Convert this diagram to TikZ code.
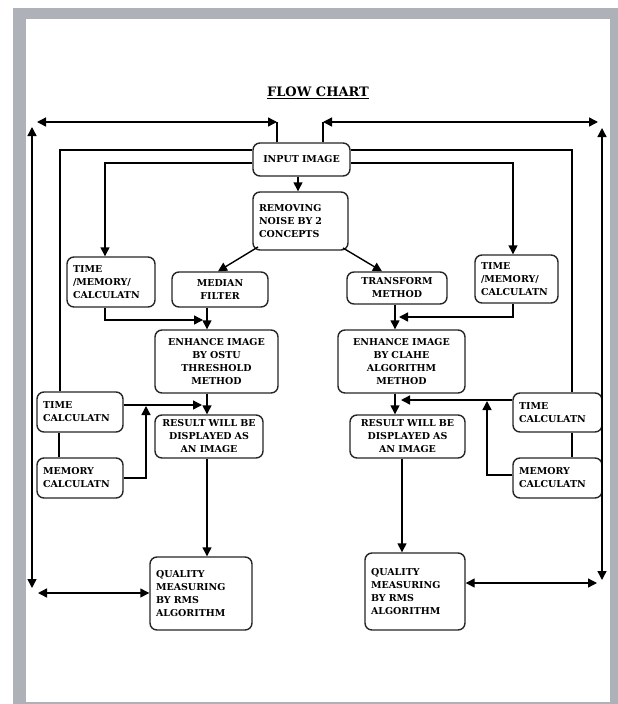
\documentclass[tikz,border=0pt]{standalone}
\usepackage{fontspec}
\setmainfont{DejaVu Serif}
\usetikzlibrary{arrows.meta}
\definecolor{framegray}{HTML}{AEB2B8}
\begin{document}
\begin{tikzpicture}[x=1pt,y=-1pt,
  box/.style={draw=black!85,line width=1.4pt,rounded corners=7pt,fill=white,inner xsep=6pt,inner ysep=1pt,font=\fontsize{9.5}{13}\bfseries\selectfont},
  con/.style={line width=1.4pt,draw=black},
  arr/.style={con,-{Triangle[length=9pt,width=9pt]}},
  darr/.style={con,{Triangle[length=9pt,width=9pt]}-{Triangle[length=9pt,width=9pt]}}]
\useasboundingbox (0,0) rectangle (618,704);
\fill[white] (0,0) rectangle (618,704);
\fill[framegray] (13,8) rectangle (618,704);
\fill[white] (26,19) rectangle (610,702);

\node[font=\fontsize{13}{15}\bfseries\selectfont] (title) at (318,93) {\underline{FLOW CHART}};

% boxes
\node[box,text width=85pt,minimum height=33pt,align=center] (input) at (301.5,159.5) {INPUT IMAGE};
\node[box,text width=83pt,minimum height=58pt,align=left] (remove) at (300.5,221) {REMOVING\\NOISE BY 2\\CONCEPTS};
\node[box,text width=84pt,minimum height=35pt,align=center] (median) at (220,289.5) {MEDIAN\\FILTER};
\node[box,text width=88pt,minimum height=32pt,align=center] (transform) at (397,288) {TRANSFORM\\METHOD};
\node[box,text width=76pt,minimum height=50pt,align=left] (tmL) at (111,282) {TIME\\/MEMORY/\\CALCULATN};
\node[box,text width=71pt,minimum height=48pt,align=left] (tmR) at (516.5,279) {TIME\\/MEMORY/\\CALCULATN};
\node[box,text width=111pt,minimum height=63pt,align=center] (enhL) at (216.5,361.5) {ENHANCE IMAGE\\BY OSTU\\THRESHOLD\\METHOD};
\node[box,text width=115pt,minimum height=63pt,align=center] (enhR) at (401.5,361.5) {ENHANCE IMAGE\\BY CLAHE\\ALGORITHM\\METHOD};
\node[box,text width=74pt,minimum height=40pt,align=left] (tcL) at (80,412) {TIME\\CALCULATN};
\node[box,text width=74pt,minimum height=40pt,align=left] (memL) at (80,478) {MEMORY\\CALCULATN};
\node[box,text width=96pt,minimum height=43pt,align=center] (resL) at (209,436.5) {RESULT WILL BE\\DISPLAYED AS\\AN IMAGE};
\node[box,text width=77pt,minimum height=39pt,align=left] (tcR) at (557.5,412.5) {TIME\\CALCULATN};
\node[box,text width=77pt,minimum height=40pt,align=left] (memR) at (557.5,478) {MEMORY\\CALCULATN};
\node[box,text width=103pt,minimum height=43pt,align=center] (resR) at (407.5,436.5) {RESULT WILL BE\\DISPLAYED AS\\AN IMAGE};
\node[box,text width=90pt,minimum height=73pt,align=left] (qL) at (201,593.5) {QUALITY\\MEASURING\\BY RMS\\ALGORITHM};
\node[box,text width=88pt,minimum height=77pt,align=left] (qR) at (415,591.5) {QUALITY\\MEASURING\\BY RMS\\ALGORITHM};

% outer loop coordinates
\coordinate (c1) at (277,122);
\coordinate (c2) at (37,122);
\coordinate (c3) at (32,127);
\coordinate (c4) at (32,588);
\coordinate (c5) at (38,593);
\coordinate (c6) at (323,122);
\coordinate (c7) at (598,122);
\coordinate (c8) at (602,128);
\coordinate (c9) at (602,580);
\coordinate (c10) at (597,583);

\draw[con] (input.north -| c1) -- (c1);
\draw[darr] (c1) -- (c2);
\draw[darr] (c3) -- (c4);
\draw[darr] (c5) -- (c5 -| qL.west);
\draw[con] (input.north -| c6) -- (c6);
\draw[darr] (c6) -- (c7);
\draw[darr] (c8) -- (c9);
\draw[darr] (qR.east |- c10) -- (c10);

% inner lines from input
\coordinate (l1) at (60,150);
\coordinate (l2) at (105,163);
\coordinate (r1) at (572,150);
\coordinate (r2) at (513,163);
\draw[con] (l1 -| input.west) -- (l1) -- (l1 |- tcL.north);
\draw[arr] (l2 -| input.west) -- (l2) -- (l2 |- tmL.north);
\draw[con] (r1 -| input.east) -- (r1) -- (r1 |- tcR.north);
\draw[arr] (r2 -| input.east) -- (r2) -- (r2 |- tmR.north);

% input -> remove
\coordinate (m0) at (298,0);
\draw[arr] (input.south -| m0) -- (remove.north -| m0);
% remove -> median / transform
\coordinate (a1) at (258,247);
\coordinate (a2) at (218,0);
\coordinate (a3) at (343,248);
\coordinate (a4) at (382,0);
\draw[arr] (a1) -- (median.north -| a2);
\draw[arr] (a3) -- (transform.north -| a4);

% to enhance
\coordinate (mx) at (207,0);
\coordinate (nx) at (395,0);
\draw[arr] (median.south -| mx) -- (enhL.north -| mx);
\draw[arr] (transform.south -| nx) -- (enhR.north -| nx);
\coordinate (k1) at (105,320);
\coordinate (k2) at (203,320);
\coordinate (k3) at (513,317);
\coordinate (k4) at (399,317);
\draw[arr] (tmL.south -| k1) -- (k1) -- (k2);
\draw[arr] (tmR.south -| k3) -- (k3) -- (k4);

% enhance -> result, and time/memory
\draw[arr] (enhL.south -| mx) -- (resL.north -| mx);
\draw[arr] (enhR.south -| nx) -- (resR.north -| nx);
\coordinate (k5) at (202,405);
\coordinate (k6) at (146,478);
\coordinate (k7) at (146,406);
\coordinate (k8) at (59,0);
\draw[arr] (k5 -| tcL.east) -- (k5);
\draw[arr] (k6 -| memL.east) -- (k6) -- (k7);
\draw[con] (tcL.south -| k8) -- (memL.north -| k8);
\coordinate (k9) at (401,400);
\coordinate (k10) at (487,475);
\coordinate (k11) at (487,401);
\draw[arr] (k9 -| tcR.west) -- (k9);
\draw[arr] (k10 -| memR.west) -- (k10) -- (k11);
\draw[con] (tcR.south -| r1) -- (memR.north -| r1);

% result -> quality
\coordinate (ox) at (402,0);
\draw[arr] (resL.south -| mx) -- (qL.north -| mx);
\draw[arr] (resR.south -| ox) -- (qR.north -| ox);
\end{tikzpicture}
\end{document}
